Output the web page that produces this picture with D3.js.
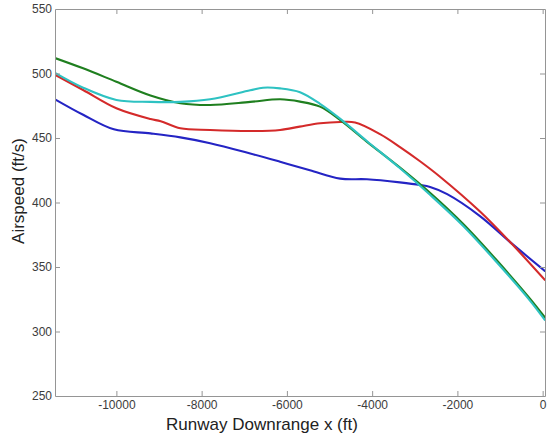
<!DOCTYPE html>
<html>
<head>
<meta charset="utf-8">
<script src="https://cdn.jsdelivr.net/npm/d3@7"></script>
<style>
  html, body { margin: 0; padding: 0; background: #fff; }
  svg { display: block; }
</style>
</head>
<body>
<svg id="chart" width="547" height="440"></svg>
<script>
// Data: [x (ft), airspeed (ft/s)] per series
const blueX  = [-11440, -10780, -10060, -9200, -8500, -7800, -6860, -6160, -5460, -4750, -4120, -3350, -2880, -2640, -2240, -1470, -700, 50];
const blueY  = [480, 468, 456.7, 453.6, 450.5, 446, 438, 431.6, 425, 418.5, 418, 415.6, 413.6, 412, 406.5, 389.5, 367.5, 347];

const redX   = [-11440, -10780, -10000, -9200, -8960, -8500, -7800, -6860, -6160, -5700, -5220, -4750, -4400, -3815, -3346, -2877, -2408, -1470, -697, 50];
const redY   = [499, 487.2, 473, 464.7, 463, 457.5, 456.2, 455.4, 456.2, 458.8, 461.4, 462.4, 462, 453, 443, 432, 420, 393, 367, 340];

const greenX = [-11440, -10780, -10000, -9200, -8500, -7800, -6860, -6160, -5692, -5223, -4754, -4120, -3346, -2643, -1869, -1072, -298, 50];
const greenY = [512, 504, 493.6, 483, 477, 475.6, 478, 480, 478.2, 474.3, 464, 447, 427, 407.5, 383.5, 355, 325.5, 311];

const cyanX  = [-11440, -10780, -10000, -9200, -8500, -7800, -6860, -6560, -6160, -5692, -5223, -4754, -4120, -3346, -2643, -1869, -1072, -298, 50];
const cyanY  = [500.5, 489, 479.5, 478, 478, 480, 487, 489, 488.5, 485.5, 476.5, 465, 447.5, 426.5, 406, 382, 353.5, 324, 309];

const xTicks = [-10000, -8000, -6000, -4000, -2000, 0];
const yTicks = [250, 300, 350, 400, 450, 500, 550];

const seriesList = [
  { name: "blue",  xs: blueX,  ys: blueY,  color: "#2424c4" },
  { name: "red",   xs: redX,   ys: redY,   color: "#d42a2a" },
  { name: "green", xs: greenX, ys: greenY, color: "#1f7f1f" },
  { name: "cyan",  xs: cyanX,  ys: cyanY,  color: "#2ec2c2" }
];

const svg = d3.select("#chart");
const mLeft = 55, mRight = 545, mTop = 9, mBottom = 396;

const x = d3.scaleLinear().domain([-11440, 55]).range([mLeft, mRight]);
const y = d3.scaleLinear().domain([250, 550]).range([mBottom, mTop]);

const axisColor = "#959595";
const textColor = "#3c3c3c";
const fontFam = "'Liberation Sans', Arial, Helvetica, sans-serif";

svg.append("defs").append("clipPath").attr("id", "clip")
  .append("rect").attr("x", mLeft).attr("y", mTop).attr("width", mRight - mLeft).attr("height", mBottom - mTop);

const line = d3.line()
  .x(d => x(d[0]))
  .y(d => y(d[1]))
  .curve(d3.curveCatmullRom.alpha(0.5));

const g = svg.append("g").attr("clip-path", "url(#clip)");
seriesList.forEach(s => {
  g.append("path")
    .datum(d3.zip(s.xs, s.ys))
    .attr("fill", "none")
    .attr("stroke", s.color)
    .attr("stroke-width", 2.1)
    .attr("stroke-linejoin", "round")
    .attr("stroke-linecap", "round")
    .attr("d", line);
});

const tickLen = 5;
const fmt = d => String(d);
const xAxisB = d3.axisBottom(x).tickValues(xTicks).tickSizeInner(-tickLen).tickSizeOuter(0).tickPadding(4).tickFormat(fmt);
const xAxisT = d3.axisTop(x).tickValues(xTicks).tickSizeInner(-tickLen).tickSizeOuter(0).tickFormat("");
const yAxisL = d3.axisLeft(y).tickValues(yTicks).tickSizeInner(-tickLen).tickSizeOuter(0).tickPadding(3).tickFormat(fmt);
const yAxisR = d3.axisRight(y).tickValues(yTicks).tickSizeInner(-tickLen).tickSizeOuter(0).tickFormat("");

function styleAxis(sel) {
  sel.select(".domain").attr("stroke", axisColor).attr("stroke-width", 1);
  sel.selectAll(".tick line").attr("stroke", axisColor).attr("stroke-width", 1);
  sel.selectAll(".tick text").attr("fill", textColor).style("font-family", fontFam).style("font-size", "12px");
}

svg.append("g").attr("transform", `translate(0,${mBottom})`).call(xAxisB).call(styleAxis);
svg.append("g").attr("transform", `translate(0,${mTop})`).call(xAxisT).call(styleAxis);
svg.append("g").attr("transform", `translate(${mLeft},0)`).call(yAxisL).call(styleAxis);
svg.append("g").attr("transform", `translate(${mRight},0)`).call(yAxisR).call(styleAxis);

svg.selectAll(".tick line").filter(function(d) { return d === 550 || d === 250; }).attr("opacity", 0);

svg.append("text")
  .attr("x", 262)
  .attr("y", 429.5)
  .attr("text-anchor", "middle")
  .attr("fill", "#222")
  .style("font-family", fontFam)
  .style("font-size", "17px")
  .text("Runway Downrange x (ft)");

svg.append("text")
  .attr("transform", `translate(24,191) rotate(-90)`)
  .attr("text-anchor", "middle")
  .attr("fill", "#222")
  .style("font-family", fontFam)
  .style("font-size", "17px")
  .text("Airspeed (ft/s)");
</script>
</body>
</html>
